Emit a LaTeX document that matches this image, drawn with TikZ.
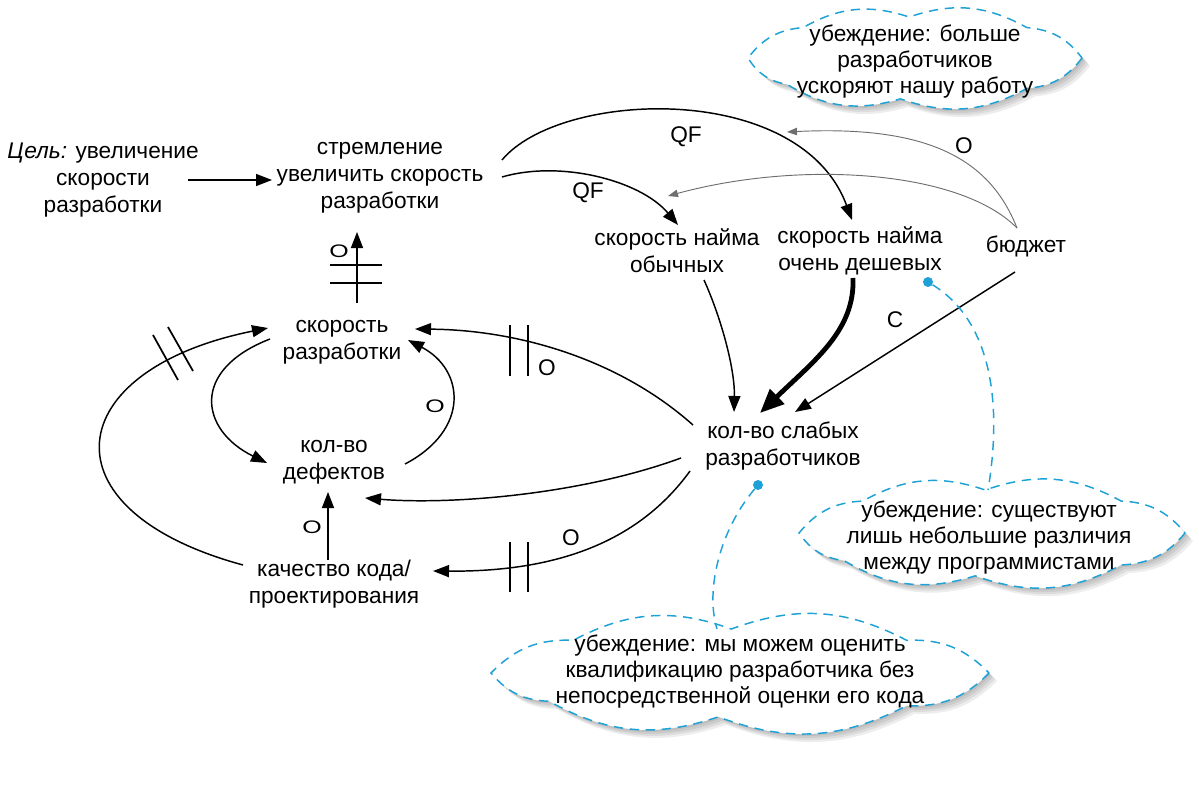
\documentclass[tikz,border=0pt]{standalone}
\usepackage{graphicx}
\usepackage{fontspec}
\setmainfont{Liberation Sans}
\usetikzlibrary{arrows.meta,calc}
\definecolor{cblue}{RGB}{29,161,214}
\definecolor{cgray}{RGB}{110,110,110}
% cloud outline: centre x, centre y, half axes a, b
\newcommand\cloudpath[4]{({#1+#3}, {#2})
  \foreach \t in {48,95,140,180,228,268,312,360} { to[bend left=24] ({#1+#3*cos(\t)},{#2+#4*sin(\t)}) } -- cycle}
% soft shadow behind a cloud
\newcommand\cloudshade[4]{%
  \foreach \s in {2,4,6,8} {\fill[cloudshadow] \cloudpath{#1+\s}{#2+\s}{#3}{#4};}}
\newcommand\flatO{\scalebox{1.1}[0.8]{O}}
\begin{document}
\begin{tikzpicture}[x=0.75pt,y=-0.75pt,
  txt/.style={align=center,font=\fontsize{17pt}{20.3pt}\selectfont,inner sep=2pt},
  ctxt/.style={align=center,font=\fontsize{17pt}{19.5pt}\selectfont,inner sep=2pt},
  lbl/.style={font=\fontsize{17pt}{20pt}\selectfont,inner sep=0pt},
  lnk/.style={line width=1.1pt,-{Triangle[length=12pt,width=9pt]}},
  biglnk/.style={line width=3.6pt,-{Triangle[length=18pt,width=15pt]}},
  graylnk/.style={line width=0.7pt,cgray,-{Triangle[length=7.5pt,width=5.5pt]}},
  delaybar/.style={line width=1.3pt},
  cloudshadow/.style={fill=black,opacity=0.07},
  cloudline/.style={draw=cblue,dash pattern=on 7pt off 5pt,line width=1.1pt,fill=white},
  callout/.style={cblue,line width=1.1pt,dash pattern=on 7pt off 5pt},
  dot/.style={circle,fill=cblue,inner sep=0pt,minimum size=7.5pt}]
\useasboundingbox (0,0) rectangle (1199,799);

% clouds (shapes drawn directly)
\cloudshade{915}{58}{167}{41}
\draw[cloudline] \cloudpath{915}{58}{167}{41};
\node[ctxt] (cl1t) at (915,62) {убеждение: больше\\разработчиков\\ускоряют нашу работу};

\cloudshade{992}{533}{193}{43}
\draw[cloudline] \cloudpath{992}{533}{193}{43};
\node[ctxt] (cl2t) at (989,538) {убеждение: существуют\\лишь небольшие различия\\между программистами};
\coordinate (cl2top) at (988,490);

\cloudshade{740}{673}{249}{44}
\draw[cloudline] \cloudpath{740}{673}{249}{44};
\node[ctxt] (cl3t) at (740,672) {убеждение: мы можем оценить\\квалификацию разработчика без\\непосредственной оценки его кода};
\coordinate (cl3top) at (717,629);

% nodes
\node[txt] (goal) at (103,180) {\textit{Цель:} увеличение\\скорости\\разработки};
\node[txt] (aspire) at (380,178) {стремление\\увеличить скорость\\разработки};
\node[txt] (hreg) at (677,251) {скорость найма\\обычных};
\node[txt] (hcheap) at (860,251) {скорость найма\\очень дешевых};
\node[txt] (budget) at (1026,246) {бюджет};
\node[txt] (speed) at (342,342) {скорость\\разработки};
\node[txt] (defects) at (334,462) {кол-во\\дефектов};
\node[txt] (quality) at (334,584) {качество кода/\\проектирования};
\node[txt] (weak) at (783,446) {кол-во слабых\\разработчиков};

% connectors
\draw[lnk] ($(goal)+(85,0)$) -- ($(aspire)+(-108,2)$);
\draw[lnk] ($(speed)+(15,-39)$) -- ($(aspire)+(-23,54)$);
\draw[delaybar] (330,265) -- (382,265);
\draw[delaybar] (330,283) -- (382,283);
\node[lbl] (o1) at (339,251) {\flatO};

\draw[lnk] ($(aspire)+(122,-18)$) .. controls (560,90) and (800,80) .. ($(hcheap)+(-8,-31)$);
\node[lbl] (qfa) at (686,137) {QF};
\draw[lnk] ($(aspire)+(122,-1)$) .. controls (560,160) and (640,180) .. ($(hreg)+(1,-26)$);
\node[lbl] (qfb) at (588,193) {QF};

\coordinate (g1) at (787,132);
\coordinate (g2) at (668,196);
\draw[graylnk] ($(budget)+(-9,-18)$) .. controls (990,160) and (930,125) .. (g1);
\node[lbl] (o2) at (964,146) {O};
\draw[graylnk] ($(budget)+(-9,-18)$) .. controls (960,170) and (800,160) .. (g2);

\draw[lnk] ($(hreg)+(27,29)$) .. controls (722,320) and (735,370) .. ($(weak)+(-49,-34)$);
\draw[biglnk] ($(hcheap)+(-7,27)$) .. controls (855,330) and (815,360) .. ($(weak)+(-23,-33)$);
\draw[lnk] ($(budget)+(-11,26)$) -- ($(weak)+(12,-34)$);
\node[lbl] (c1) at (895,320) {C};

\draw[lnk] ($(weak)+(-90,-21)$) .. controls (620,360) and (520,330) .. ($(speed)+(73,-13)$);
\draw[delaybar] (510,325) -- (510,376);
\draw[delaybar] (528,325) -- (528,376);
\node[lbl] (o3) at (547,368) {O};

\draw[lnk] ($(defects)+(71,2)$) .. controls (470,430) and (465,370) .. ($(speed)+(66,-2)$);
\node[lbl] (o4) at (435,406) {\flatO};
\draw[lnk] ($(speed)+(-72,-3)$) .. controls (190,370) and (200,430) .. ($(defects)+(-67,1)$);
\draw[lnk] ($(weak)+(-102,12)$) .. controls (580,495) and (450,505) .. ($(defects)+(31,36)$);
\draw[lnk] ($(weak)+(-93,25)$) .. controls (640,540) and (560,572) .. ($(quality)+(99,-13)$);
\draw[delaybar] (510,542) -- (510,592);
\draw[delaybar] (528,542) -- (528,592);
\node[lbl] (o5) at (571,538) {O};
\draw[lnk] ($(quality)+(-6,-24)$) -- ($(defects)+(-6,30)$);
\node[lbl] (o6) at (312,527) {\flatO};
\draw[lnk] ($(quality)+(-91,-19)$) .. controls (40,510) and (60,370) .. ($(speed)+(-74,-14)$);
\draw[delaybar] (153,335) -- (178,380);
\draw[delaybar] (168,327) -- (193,371);

% callouts
\node[dot] (d1) at (928,282) {};
\draw[callout] (d1) .. controls (990,320) and (1003,400) .. (cl2top);
\node[dot] (d2) at ($(weak)+(-25,39)$) {};
\draw[callout] (d2) .. controls (720,530) and (705,590) .. (cl3top);
\end{tikzpicture}
\end{document}
